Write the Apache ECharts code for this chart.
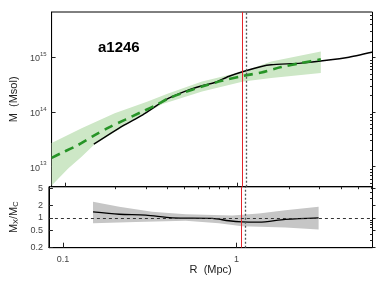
<!DOCTYPE html>
<html><head><meta charset="utf-8">
<script src="https://cdn.jsdelivr.net/npm/echarts@6/dist/echarts.min.js"></script>
<style>html,body{margin:0;padding:0;background:#fff}#c{width:385px;height:289px}</style>
</head><body><div id="c"></div>
<script>
// ---- data ----
const title = 'a1246';
const xTickLabels = [0.1, 1];
const xMinorTicks = [0.2,0.3,0.4,0.5,0.6,0.7,0.8,0.9,2,3,4,5,6];
const yTopMajor = [1e13, 1e14, 1e15];
const yTopMinor = [5e12,6e12,7e12,8e12,9e12,2e13,3e13,4e13,5e13,6e13,7e13,8e13,9e13,2e14,3e14,4e14,5e14,6e14,7e14,8e14,9e14,2e15,3e15,4e15,5e15,6e15];
const yBotMajor = [0.2, 0.5, 1, 2, 5];
const yBotMinor = [0.3,0.4,0.6,0.7,0.8,0.9,3,4];
const rRed = 1.068;
const rDotted = 1.122;

// top panel: black mass profile [R (Mpc), M (Msol)]
const massX = [[0.146,2.58e13],[0.215,5.58e13],[0.281,8.89e13],[0.381,1.67e14],[0.477,2.3e14],[0.621,3.03e14],[0.738,3.48e14],[0.884,4.48e14],[1.078,5.53e14],[1.374,6.84e14],[1.567,7.35e14],[2.33,7.89e14],[3.2,8.81e14],[4.34,1.0e15],[6.1,1.26e15]];
// green dashed profile
const massC = [[0.0831,1.45e13],[0.0936,1.75e13],[0.117,2.45e13],[0.147,3.73e13],[0.179,5.24e13],[0.221,7.19e13],[0.273,9.87e13],[0.334,1.33e14],[0.396,1.78e14],[0.477,2.22e14],[0.621,2.94e14],[0.809,3.74e14],[1.078,4.61e14],[1.374,5.30e14],[1.79,6.67e14],[2.33,7.89e14],[3.04,9.27e14]];
const massCUpper = [[0.0831,2.72e13],[0.124,5.07e13],[0.193,9.55e13],[0.300,1.56e14],[0.391,2.16e14],[0.621,3.63e14],[1.078,5.53e14],[1.567,8.45e14],[3.04,1.29e15]];
const massCLower = [[0.0831,4.52e12],[0.104,9.35e12],[0.124,1.52e13],[0.145,2.45e13],[0.193,4.33e13],[0.273,8.51e13],[0.366,1.41e14],[0.621,2.38e14],[1.078,3.63e14],[1.567,4.19e14],[3.04,5.17e14]];
// bottom panel: ratio
const ratio = [[0.149,1.39],[0.211,1.22],[0.300,1.16],[0.427,1.0],[0.725,0.97],[0.903,0.85],[1.078,0.80],[1.343,0.79],[1.91,0.92],[2.97,1.0]];
const ratioUpper = [[0.149,2.40],[0.211,1.83],[0.326,1.39],[0.509,1.22],[0.945,1.14],[1.343,1.27],[1.91,1.52],[2.97,1.83]];
const ratioLower = [[0.149,0.74],[0.263,0.80],[0.509,0.85],[0.791,0.74],[1.078,0.63],[1.91,0.59],[2.97,0.53]];

// ---- chart ----
const FONT = "'Liberation Sans', Arial, Helvetica, sans-serif";
const X_MIN = 0.083, X_MAX = 6.07;
const chart = echarts.init(document.getElementById('c'), null, {renderer:'canvas'});

function band(xi, yi, upper, lower, color){
  const pts = upper.concat(lower.slice().reverse());
  return {type:'custom', xAxisIndex:xi, yAxisIndex:yi, silent:true, z:1, animation:false,
    data:[pts[0]], encode:{x:0,y:1},
    renderItem:(params, api)=>({type:'polygon', shape:{points: pts.map(p=>api.coord(p))}, style:{fill:color}})};
}
function vlines(xi, yi, extra){
  return {type:'line', xAxisIndex:xi, yAxisIndex:yi, data:[], z:5,
    markLine:{silent:true, symbol:'none', animation:false, label:{show:false},
      data:[
        {xAxis:rRed, lineStyle:{color:'#e3262b', width:1, type:'solid'}},
        {xAxis:rDotted, lineStyle:{color:'#555', width:1.3, type:[2,2]}}
      ].concat(extra||[])}};
}
const tickC = '#222';
const lblStyle = {fontFamily:FONT, fontSize:9, color:'#444'};

const option = {
  animation:false,
  title:{text:title, left:93, top:35, textStyle:{fontFamily:FONT, fontSize:15, fontWeight:'bold', color:'#000'}},
  grid:[
    {left:48, top:12, right:12.5, height:174.7, show:true, borderColor:'#000', borderWidth:1, backgroundColor:'transparent'},
    {left:48, top:186.7, right:12.5, height:61, show:true, borderColor:'#000', borderWidth:1, backgroundColor:'transparent'}
  ],
  xAxis:[
    {type:'log', gridIndex:0, min:X_MIN, max:X_MAX, axisLine:{lineStyle:{color:'#000'}}, splitLine:{show:false},
     axisLabel:{show:false}, axisTick:{inside:true, length:4, lineStyle:{color:tickC}, customValues:xTickLabels}},
    {type:'log', gridIndex:1, min:X_MIN, max:X_MAX, axisLine:{lineStyle:{color:'#000'}}, splitLine:{show:false},
     axisLabel:Object.assign({margin:7, customValues:xTickLabels, formatter:v=>String(v)}, lblStyle),
     axisTick:{inside:true, length:5, lineStyle:{color:tickC}, customValues:xTickLabels},
     name:'R  (Mpc)', nameLocation:'middle', nameGap:16, nameTextStyle:{fontFamily:FONT, fontSize:11, color:'#222'}},
    {type:'log', gridIndex:1, min:X_MIN, max:X_MAX, axisLine:{show:false}, splitLine:{show:false},
     axisLabel:{show:false}, axisTick:{inside:true, length:2.5, lineStyle:{color:tickC}, customValues:xMinorTicks}}
  ],
  yAxis:[
    {type:'log', gridIndex:0, min:4.3e12, max:6.8e15, axisLine:{lineStyle:{color:'#000'}}, splitLine:{show:false},
     axisLabel:{margin:5, customValues:yTopMajor, formatter:v=>'{b|10}{s|'+Math.round(Math.log10(v))+'}',
       rich:{b:{fontFamily:FONT, fontSize:9, color:'#444', padding:[3,0,0,0]}, s:{fontFamily:FONT, fontSize:6, color:'#444', verticalAlign:'top'}}},
     axisTick:{inside:true, length:4, lineStyle:{color:tickC}, customValues:yTopMajor},
     name:'M  (Msol)', nameLocation:'middle', nameGap:24, nameTextStyle:{fontFamily:FONT, fontSize:11, color:'#222'}},
    {type:'log', gridIndex:0, min:4.3e12, max:6.8e15, axisLine:{show:false}, splitLine:{show:false},
     axisLabel:{show:false}, axisTick:{inside:true, length:2.5, lineStyle:{color:tickC}, customValues:yTopMinor}},
    {type:'log', gridIndex:0, min:4.3e12, max:6.8e15, axisLine:{show:false}, splitLine:{show:false},
     axisLabel:{show:false}, axisTick:{inside:false, length:3, lineStyle:{color:tickC}, customValues:yTopMajor}},
    {type:'log', gridIndex:1, min:0.195, max:5.5, axisLine:{lineStyle:{color:'#000'}}, splitLine:{show:false},
     axisLabel:Object.assign({margin:6, customValues:yBotMajor, formatter:v=>String(v)}, lblStyle),
     axisTick:{inside:true, length:4, lineStyle:{color:tickC}, customValues:yBotMajor},
     name:'{m|M}{s|X}{m|/M}{s|C}', nameLocation:'middle', nameGap:22,
     nameTextStyle:{fontFamily:FONT, fontSize:11, color:'#222',
       rich:{m:{fontFamily:FONT, fontSize:11, color:'#222'}, s:{fontFamily:FONT, fontSize:7.5, color:'#222', verticalAlign:'bottom', padding:[4,0,0,0]}}}},
    {type:'log', gridIndex:1, min:0.195, max:5.5, axisLine:{show:false}, splitLine:{show:false},
     axisLabel:{show:false}, axisTick:{inside:true, length:2.5, lineStyle:{color:tickC}, customValues:yBotMinor}},
    {type:'log', gridIndex:1, min:0.195, max:5.5, axisLine:{show:false}, splitLine:{show:false},
     axisLabel:{show:false}, axisTick:{inside:false, length:3, lineStyle:{color:tickC}, customValues:yBotMajor}}
  ],
  series:[
    band(0, 0, massCUpper, massCLower, '#cde7c6'),
    {type:'line', xAxisIndex:0, yAxisIndex:0, data:massX, showSymbol:false, symbol:'none', smooth:0.2, z:3,
     lineStyle:{color:'#000', width:1.4}},
    {type:'line', xAxisIndex:0, yAxisIndex:0, data:massC, showSymbol:false, symbol:'none', smooth:0.3, z:4,
     lineStyle:{color:'#279427', width:2.6, type:[9,6]}},
    vlines(0, 0),
    band(1, 3, ratioUpper, ratioLower, '#c6c6c6'),
    {type:'line', xAxisIndex:1, yAxisIndex:3, data:ratio, showSymbol:false, symbol:'none', smooth:0.3, z:3,
     lineStyle:{color:'#000', width:1.4}},
    vlines(1, 3, [{yAxis:1, lineStyle:{color:'#333', width:1, type:[3,3]}}])
  ]
};
chart.setOption(option);
</script></body></html>
